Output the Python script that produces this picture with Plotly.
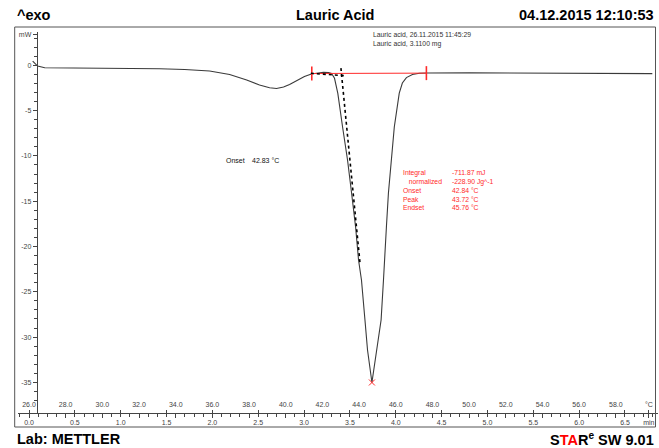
import plotly.graph_objects as go
import numpy as np

# ---------------- data ----------------
temp_C = [26.20, 26.47, 26.86, 28.76, 31.11, 33.12, 34.49, 35.85, 36.94, 37.87,
          38.57, 39.12, 39.50, 39.88, 40.21, 40.64, 41.02, 41.40, 41.73, 42.06,
          42.33, 42.50, 42.66, 42.73, 42.84, 43.10, 43.37, 43.59, 43.81, 43.97,
          44.13, 44.32, 44.46, 44.70, 44.98, 45.20, 45.33, 45.38, 45.49, 45.60,
          45.76, 45.92, 46.19, 46.36, 46.58, 46.91, 47.29, 47.73, 50.02, 52.74,
          56.01, 59.17, 59.99]
heat_flow_mW = [0.47, -0.08, -0.26, -0.28, -0.30, -0.38, -0.46, -0.63, -1.02, -1.62,
                -2.17, -2.48, -2.56, -2.40, -2.12, -1.62, -1.24, -0.96, -0.83, -0.77,
                -0.79, -0.91, -1.43, -2.17, -3.09, -6.81, -10.45, -14.09, -17.85, -21.49,
                -23.70, -28.11, -31.42, -35.01, -31.42, -28.11, -23.70, -21.49, -17.85, -14.09,
                -10.45, -6.81, -3.06, -1.95, -1.35, -1.02, -0.88, -0.85, -0.83, -0.83,
                -0.85, -0.85, -0.91]

baseline_T = [41.42, 47.67]
baseline_mW = [-0.90, -0.86]
tangent_base_T = [41.37, 43.28]
tangent_base_mW = [-0.88, -1.15]
tangent_infl_T = [43.01, 44.06]
tangent_infl_mW = [-0.30, -22.04]

temp_ticks = [26, 28, 30, 32, 34, 36, 38, 40, 42, 44, 46, 48, 50, 52, 54, 56, 58, 59.8]
temp_tick_text = ["26.0", "28.0", "30.0", "32.0", "34.0", "36.0", "38.0", "40.0", "42.0",
                  "44.0", "46.0", "48.0", "50.0", "52.0", "54.0", "56.0", "58.0", "°C"]
time_ticks = [0.0, 0.5, 1.0, 1.5, 2.0, 2.5, 3.0, 3.5, 4.0, 4.5, 5.0, 5.5, 6.0, 6.5, 6.76]
time_tick_text = ["0.0", "0.5", "1.0", "1.5", "2.0", "2.5", "3.0", "3.5", "4.0", "4.5",
                  "5.0", "5.5", "6.0", "6.5", "min"]
y_ticks = [-35, -30, -25, -20, -15, -10, -5, 0, 3.45]
y_tick_text = ["-35", "-30", "-25", "-20", "-15", "-10", "-5", "0", "mW"]

start_T = 26.0          # °C at t = 0
heating_rate = 5.0      # K/min
T_range = [25.4, 60.3]
mW_range = [-38.38, 3.68]

result_labels = ["Integral", "\u00a0\u00a0\u00a0normalized", "Onset", "Peak", "Endset"]
result_values = ["-711.87 mJ", "-228.90 Jg^-1", "42.84 °C", "43.72 °C", "45.76 °C"]
onset_label, onset_value = "Onset", "42.83 °C"
sample_lines = ["Lauric acid, 26.11.2015 11:45:29", "Lauric acid, 3.1100 mg"]

# ---------------- layout helpers ----------------
W, H = 659, 448
PL, PR, PT, PB = 18.3, 658.5, 32, 413


def fx(px):
    return (px - PL) / (PR - PL)


def fy(py):
    return (PB - py) / (PB - PT)


FONT = "Liberation Sans, Arial, sans-serif"
AX = "#444444"
RED = "#ff2a2a"

fig = go.Figure()

# main curve
fig.add_trace(go.Scatter(x=temp_C, y=heat_flow_mW, mode="lines",
                         line=dict(color="#3a3a3a", width=1.1), hoverinfo="skip"))
# red integration baseline
fig.add_trace(go.Scatter(x=baseline_T, y=baseline_mW, mode="lines",
                         line=dict(color=RED, width=1), hoverinfo="skip"))
fig.add_trace(go.Scatter(x=baseline_T, y=baseline_mW, mode="markers",
                         marker=dict(symbol="line-ns-open", size=10, color=RED,
                                     line=dict(color=RED, width=1.6)),
                         hoverinfo="skip"))
# onset tangents
fig.add_trace(go.Scatter(x=tangent_base_T, y=tangent_base_mW, mode="lines",
                         line=dict(color="black", width=1.6, dash="dot"), hoverinfo="skip"))
fig.add_trace(go.Scatter(x=tangent_infl_T, y=tangent_infl_mW, mode="lines",
                         line=dict(color="black", width=1.6, dash="dot"), hoverinfo="skip"))
# peak marker
ipk = int(np.argmin(heat_flow_mW))
fig.add_trace(go.Scatter(x=[temp_C[ipk]], y=[heat_flow_mW[ipk]], mode="markers",
                         marker=dict(symbol="x-thin-open", size=6, color=RED,
                                     line=dict(color=RED, width=1)),
                         hoverinfo="skip"))
# invisible trace to activate time axis
time_range = [(T_range[0] - start_T) / heating_rate, (T_range[1] - start_T) / heating_rate]
fig.add_trace(go.Scatter(x=time_range, y=[0, 0], xaxis="x2", mode="lines",
                         line=dict(width=0), opacity=0, hoverinfo="skip"))

tickfont = dict(family=FONT, size=7, color=AX)

fig.update_layout(
    template="none",
    width=W, height=H,
    margin=dict(l=PL, r=W - PR, t=PT, b=H - PB, pad=0, autoexpand=False),
    paper_bgcolor="white", plot_bgcolor="white",
    showlegend=False,
    xaxis=dict(range=T_range, domain=[0, 1], anchor="y",
               tickvals=temp_ticks, ticktext=temp_tick_text,
               ticklabelposition="inside", ticks="outside", ticklen=4,
               ticklabelstandoff=3,
               tickcolor=AX, tickwidth=1,
               minor=dict(dtick=0.5, tick0=26, ticks="outside", ticklen=2.5,
                          tickcolor=AX, tickwidth=1, showgrid=False),
               showline=True, linecolor=AX, linewidth=1,
               showgrid=False, zeroline=False, tickfont=tickfont),
    xaxis2=dict(range=time_range, overlaying="x", anchor="y", side="bottom",
                tickvals=time_ticks, ticktext=time_tick_text,
                ticks="inside", ticklen=3, tickcolor=AX,
                ticklabelstandoff=4,
                showline=False, showgrid=False, zeroline=False, tickfont=tickfont),
    yaxis=dict(range=mW_range, anchor="free", position=fx(37),
               tickvals=y_ticks, ticktext=y_tick_text,
               ticks="outside", ticklen=4, tickcolor=AX,
               minor=dict(dtick=1, tick0=0, ticks="outside", ticklen=2.5, tickcolor=AX,
                          showgrid=False),
               showline=True, linecolor=AX, linewidth=1,
               showgrid=False, zeroline=False, tickfont=tickfont),
)

# frame
fig.add_shape(type="rect", xref="paper", yref="paper",
              x0=fx(15), x1=fx(656), y0=fy(427), y1=fy(27),
              line=dict(color="#555555", width=1), layer="above")

ann = []
hdr = dict(family=FONT, size=14.5, color="black")
ann.append(dict(x=fx(15), y=fy(15), text="<b>^exo</b>", xanchor="left", yanchor="middle", font=hdr))
ann.append(dict(x=fx(335), y=fy(15), text="<b>Lauric Acid</b>", xanchor="center", yanchor="middle", font=hdr))
ann.append(dict(x=fx(656), y=fy(15), text="<b>04.12.2015 12:10:53</b>", xanchor="right", yanchor="middle", font=hdr))
ann.append(dict(x=fx(15), y=fy(439), text="<b>Lab: METTLER</b>", xanchor="left", yanchor="middle", font=hdr))
ann.append(dict(x=fx(656), y=fy(439),
                text="<b>S<span style='color:#ff0000'>TA</span>R<sup>e</sup> SW 9.01</b>",
                xanchor="right", yanchor="middle", font=hdr))

small = dict(family=FONT, size=6.8, color="#333333")
ann.append(dict(x=fx(371), y=fy(34), text=sample_lines[0], xanchor="left", yanchor="middle", font=small))
ann.append(dict(x=fx(371), y=fy(43.5), text=sample_lines[1], xanchor="left", yanchor="middle", font=small))

onf = dict(family=FONT, size=7, color="#111111")
ann.append(dict(x=fx(224), y=fy(160), text=onset_label, xanchor="left", yanchor="middle", font=onf))
ann.append(dict(x=fx(250), y=fy(160), text=onset_value, xanchor="left", yanchor="middle", font=onf))

redf = dict(family=FONT, size=6.8, color=RED)
ann.append(dict(x=fx(401), y=fy(166.5), text="<br>".join(result_labels), xanchor="left",
                yanchor="top", align="left", font=redf))
ann.append(dict(x=fx(450), y=fy(166.5), text="<br>".join(result_values), xanchor="left",
                yanchor="top", align="left", font=redf))

for a in ann:
    a.update(xref="paper", yref="paper", showarrow=False)
fig.update_layout(annotations=ann)

fig.write_html("out.html")
